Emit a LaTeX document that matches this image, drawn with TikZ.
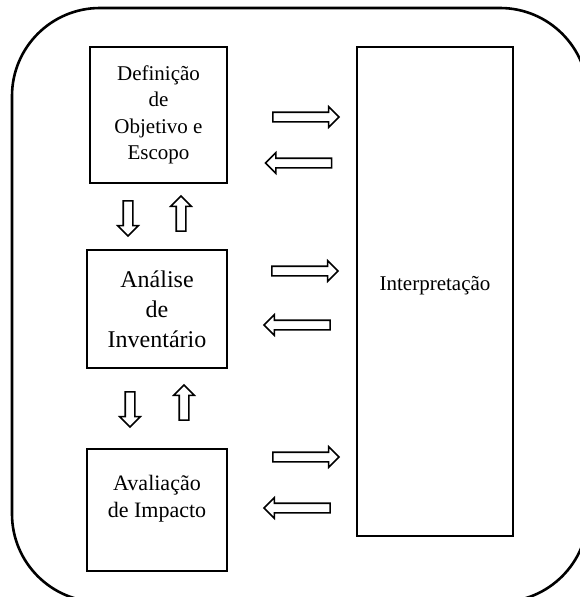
\documentclass[tikz,border=0pt]{standalone}
\usepackage{fontspec}
\setmainfont{Liberation Serif}
\usetikzlibrary{shapes.arrows}

\begin{document}
\begin{tikzpicture}[x=1pt,y=-1pt,
  etapa/.style={draw,line width=1.8pt,align=center,inner sep=0pt},
  seta/.style={single arrow,draw,line width=1.6pt,fill=white,inner sep=4pt,
    minimum width=19pt,single arrow head extend=5.5pt,minimum height=66pt,outer sep=0pt}]
\useasboundingbox (0,0) rectangle (579,597);
\draw [line width=2.6pt,rounded corners=88pt] (12,8) rectangle (588,602) ;
% etapas
\node[etapa,minimum width=137pt,minimum height=136pt,font=\fontsize{21}{26.5}\selectfont] (def) at (158.5,115) {Definição\\de\\Objetivo e\\Escopo};
\node[etapa,minimum width=140pt,minimum height=118pt,font=\fontsize{24}{30}\selectfont] (inv) at (157,309) {Análise\\de\\Inventário};
\node[etapa,minimum width=140pt,minimum height=122pt] (imp) at (157,510) {};
\node[align=center,font=\fontsize{22}{27}\selectfont] (imptxt) at (157,499) {Avaliação\\de Impacto};
\node[draw,line width=1.3pt,minimum width=156pt,minimum height=489pt] (int) at (435,291.5) {};
\node[font=\fontsize{21}{26}\selectfont] (inttxt) at (435,286) {Interpretação};
% setas horizontais
\node[seta] (d1) at (303.5,117) {};
\node[seta,rotate=180] (e1) at (301,163) {};
\node[seta] (d2) at (302.5,271) {};
\node[seta,rotate=180] (e2) at (299.5,325) {};
\node[seta] (d3) at (303.5,457) {};
\node[seta,rotate=180] (e3) at (299.5,508) {};
% setas verticais
\node[seta,minimum height=35pt,rotate=-90] (b1) at (128,216) {};
\node[seta,minimum height=35pt,rotate=90] (c1) at (181,216) {};
\node[seta,minimum height=35pt,rotate=-90] (b2) at (130,407) {};
\node[seta,minimum height=35pt,rotate=90] (c2) at (184,405) {};
\end{tikzpicture}
\end{document}
